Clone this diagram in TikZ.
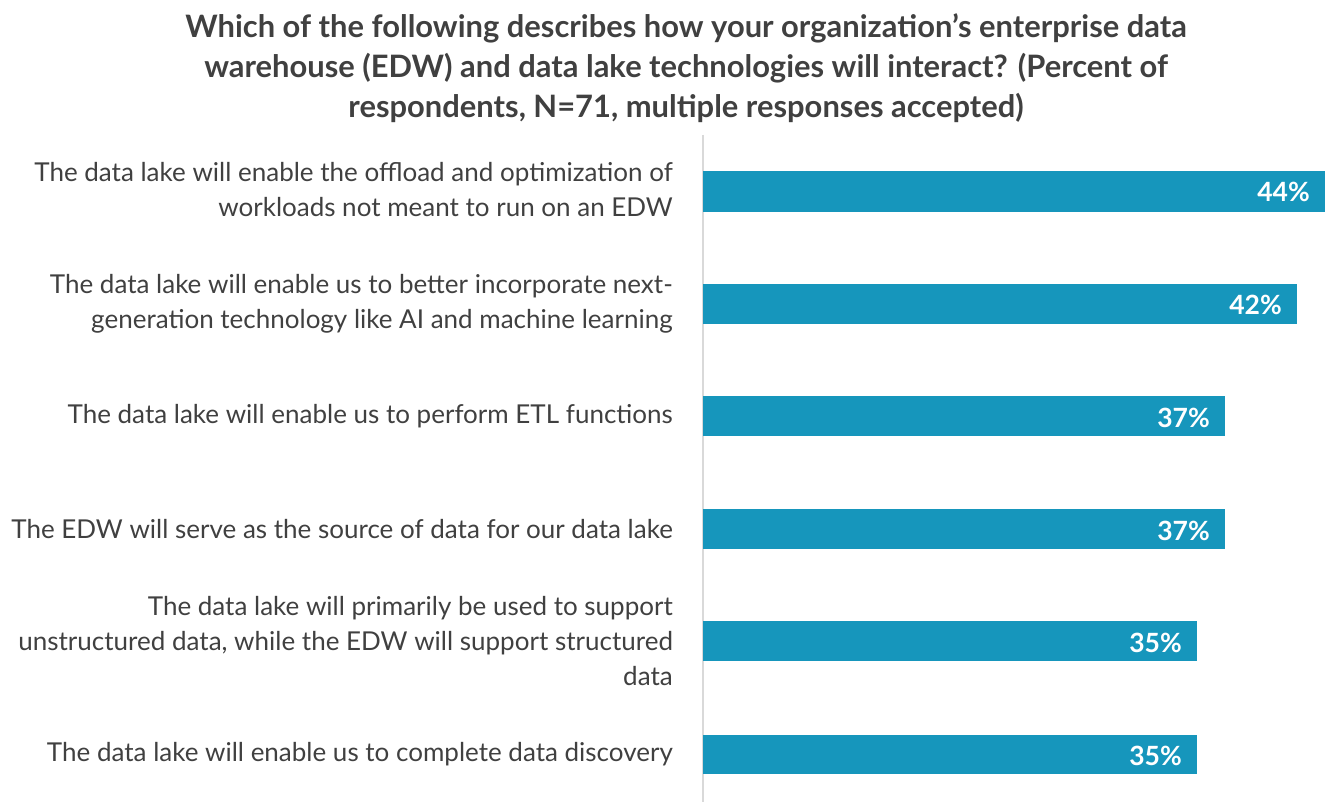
\documentclass[tikz,border=0pt]{standalone}
\usepackage{fontspec}
\setmainfont{Lato}
\definecolor{barblue}{HTML}{1696BC}
\definecolor{txtgray}{HTML}{404040}
\definecolor{axisgray}{HTML}{D9D9D9}
\begin{document}
\begin{tikzpicture}[x=1pt,y=-1pt,
  bar/.style={fill=barblue,draw=none},
  lbl/.style={anchor=east,align=right,text=txtgray,font=\fontsize{26}{35}\selectfont,inner sep=0pt},
  pct/.style={anchor=east,text=white,font=\fontsize{26.5}{28}\selectfont\bfseries,inner sep=0pt},
  ttl/.style={align=center,text=txtgray,font=\fontsize{30.9}{40}\selectfont\bfseries,inner sep=0pt}]
\useasboundingbox (0,0) rectangle (1325,802);
\node[ttl] (title) at (686,68) {Which of the following describes how your organization’s enterprise data\\warehouse (EDW) and data lake technologies will interact? (Percent of\\respondents, N=71, multiple responses accepted)};
\draw[axisgray,line width=2pt] (703,135) coordinate (axtop) -- (703,802) coordinate (axbot);
\fill[bar] (703,171) rectangle (1325,212);
\fill[bar] (703,284) rectangle (1297,324);
\fill[bar] (703,396) rectangle (1225,436);
\fill[bar] (703,509) rectangle (1225,549);
\fill[bar] (703,621) rectangle (1197,661);
\fill[bar] (703,735) rectangle (1197,774);
\node[pct] (p1) at (1310,192) {44\%};
\node[pct] (p2) at (1282,305) {42\%};
\node[pct] (p3) at (1210,418) {37\%};
\node[pct] (p4) at (1210,531) {37\%};
\node[pct] (p5) at (1182,643) {35\%};
\node[pct] (p6) at (1182,756) {35\%};
\node[lbl] (l1) at (673,190) {The data lake will enable the offload and optimization of\\workloads not meant to run on an EDW};
\node[lbl] (l2) at (673,304) {The data lake will enable us to better incorporate next-\\generation technology like AI and machine learning};
\node[lbl] (l3) at (673,416) {The data lake will enable us to perform ETL functions};
\node[lbl] (l4) at (673,529) {The EDW will serve as the source of data for our data lake};
\node[lbl] (l5) at (673,641) {The data lake will primarily be used to support\\unstructured data, while the EDW will support structured\\data};
\node[lbl] (l6) at (673,754) {The data lake will enable us to complete data discovery};
\end{tikzpicture}
\end{document}
